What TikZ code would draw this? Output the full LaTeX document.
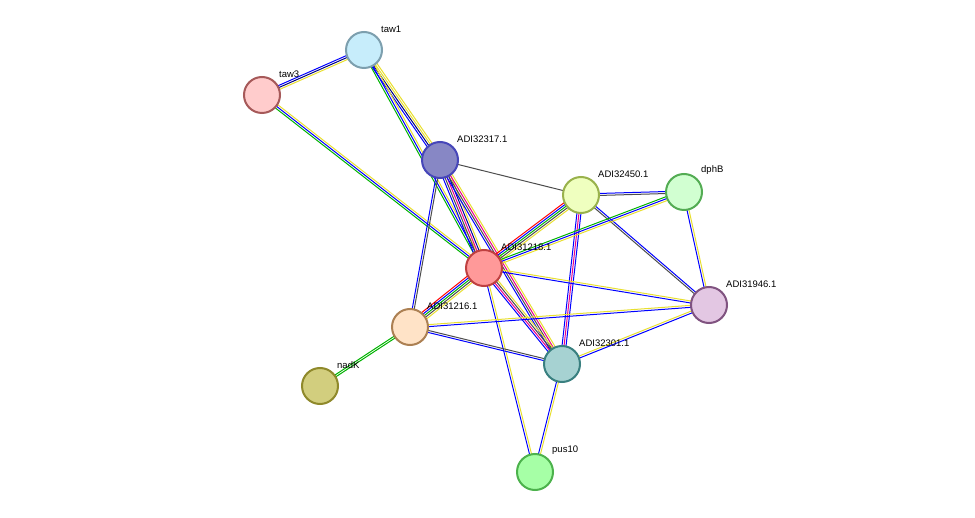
\documentclass[tikz,border=0pt]{standalone}
\usepackage{fontspec}
\setmainfont{Liberation Sans}
\usetikzlibrary{calc,backgrounds}
\tikzset{
  prot/.style={circle, minimum size=36pt, inner sep=0pt, line width=2pt},
  lab/.style={font=\fontsize{9.5}{11}\selectfont, anchor=south west, inner sep=1pt}
}
\newcommand\edge[4]{%
  \foreach \c [count=\i] in {#4} {%
    \pgfmathsetmacro\o{(\i-(#3+1)/2)*2}
    \draw[\c, line width=1pt] ($(#1)!\o pt!90:(#2)$) -- ($(#2)!\o pt!-90:(#1)$);
  }}
\begin{document}
\begin{tikzpicture}[x=1pt, y=-1pt]
\useasboundingbox (0,0) rectangle (975,518);
\node[prot, fill=cyan!22, draw=cyan!30!gray] (taw1) at (364,50) {};
\node[prot, fill=red!20, draw=red!30!gray] (taw3) at (262,95) {};
\node[prot, fill=blue!35!gray!70, draw=blue!45!gray] (A17) at (440,160) {};
\node[prot, fill=lime!25, draw=lime!40!gray] (A50) at (581,195) {};
\node[prot, fill=green!18, draw=green!35!gray] (dphB) at (684,192) {};
\node[prot, fill=red!40, draw=red!50!gray] (A18) at (484,268) {};
\node[prot, fill=violet!22, draw=violet!35!gray] (A46) at (709,305) {};
\node[prot, fill=orange!22, draw=orange!35!gray] (A16) at (410,327) {};
\node[prot, fill=teal!35, draw=teal!55!gray] (A01) at (562,364) {};
\node[prot, fill=olive!40, draw=olive!70!gray] (nadK) at (320,386) {};
\node[prot, fill=green!35, draw=green!40!gray] (pus10) at (535,472) {};
\node[lab] at (380,34) {taw1};
\node[lab] at (278,79) {taw3};
\node[lab] at (456,144) {ADI32317.1};
\node[lab] at (597,179) {ADI32450.1};
\node[lab] at (700,176) {dphB};
\node[lab] at (500,252) {ADI31218.1};
\node[lab] at (725,289) {ADI31946.1};
\node[lab] at (426,311) {ADI31216.1};
\node[lab] at (578,348) {ADI32301.1};
\node[lab] at (336,370) {nadK};
\node[lab] at (551,456) {pus10};
\begin{scope}[on background layer]
\edge{taw1}{taw3}{3}{blue,blue!50!black,yellow!80!gray}
\edge{taw1}{A17}{4}{blue,blue!50!black,yellow!80!gray,yellow!80!gray}
\edge{taw1}{A18}{3}{green!70!black,blue,yellow!80!gray}
\edge{taw3}{A18}{3}{green!70!black,blue,yellow!80!gray}
\edge{A17}{A50}{1}{black!70}
\edge{A17}{A18}{5}{blue,black!70,magenta,blue!60!black,yellow!80!gray}
\edge{A17}{A16}{2}{blue,black!70}
\edge{A17}{A01}{4}{blue,black!70,magenta,yellow!80!gray}
\edge{A50}{dphB}{2}{black!70,blue}
\edge{A50}{A18}{5}{red,blue,green!70!black,black!70,yellow!80!gray}
\edge{A50}{A01}{3}{blue,magenta,blue}
\edge{A50}{A46}{2}{black!70,blue}
\edge{dphB}{A18}{3}{green!70!black,blue,yellow!80!gray}
\edge{dphB}{A46}{2}{blue,yellow!80!gray}
\edge{A18}{A46}{2}{blue,yellow!80!gray}
\edge{A18}{A16}{5}{red,blue,green!70!black,black!70,yellow!80!gray}
\edge{A18}{A01}{4}{blue,magenta,black!70,yellow!80!gray}
\edge{A18}{pus10}{2}{blue,yellow!80!gray}
\edge{A16}{A46}{2}{blue,yellow!80!gray}
\edge{A16}{A01}{2}{blue,black!70}
\edge{A16}{nadK}{2}{green!70!black,green!70!black}
\edge{A01}{A46}{2}{blue,yellow!80!gray}
\edge{A01}{pus10}{2}{blue,yellow!80!gray}
\end{scope}
\end{tikzpicture}
\end{document}
